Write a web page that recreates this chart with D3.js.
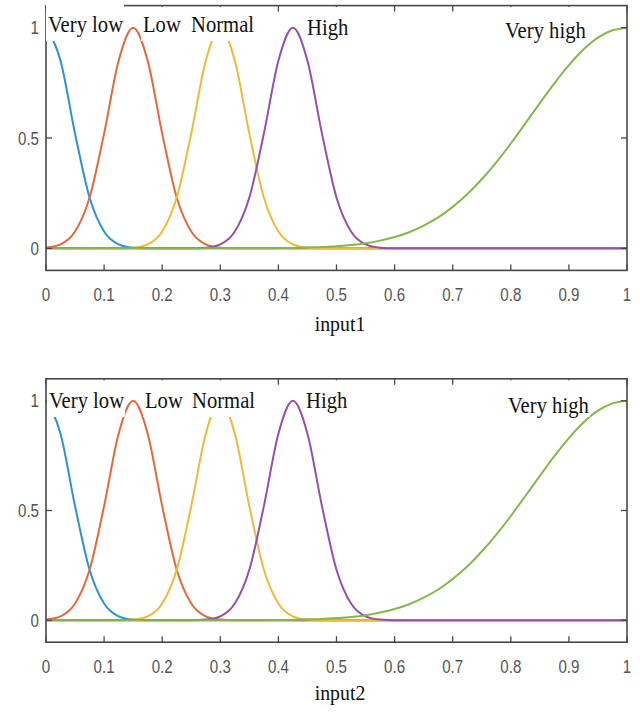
<!DOCTYPE html>
<html><head><meta charset="utf-8">
<script src="https://cdn.jsdelivr.net/npm/d3@7"></script>
<style>body{margin:0;background:#fff}svg{display:block}</style>
</head><body><svg id="c" width="640" height="719"></svg>
<script>
// ---------- data ----------
const xValues = [0,0.025,0.05,0.075,0.1,0.125,0.15,0.175,0.2,0.225,0.25,0.275,0.3,0.325,0.35,0.375,0.4,0.425,0.45,0.475,0.5,0.525,0.55,0.575,0.6,0.625,0.65,0.675,0.7,0.725,0.75,0.775,0.8,0.825,0.85,0.875,0.9,0.925,0.95,0.975,1];
const categories = ["Very low","Low","Normal","High","Very high"];
const veryLow  = [1,0.85,0.52,0.23,0.076,0.018,0.003,0,0,0,0,0,0,0,0,0,0,0,0,0,0,0,0,0,0,0,0,0,0,0,0,0,0,0,0,0,0,0,0,0,0];
const low      = [0.003,0.018,0.076,0.23,0.52,0.85,1,0.85,0.52,0.23,0.076,0.018,0.003,0,0,0,0,0,0,0,0,0,0,0,0,0,0,0,0,0,0,0,0,0,0,0,0,0,0,0,0];
const normal   = [0,0,0,0,0,0,0.003,0.018,0.076,0.23,0.52,0.85,1,0.85,0.52,0.23,0.076,0.018,0.003,0,0,0,0,0,0,0,0,0,0,0,0,0,0,0,0,0,0,0,0,0,0];
const high     = [0,0,0,0,0,0,0,0,0,0,0,0.003,0.018,0.076,0.23,0.52,0.85,1,0.85,0.52,0.23,0.076,0.018,0.003,0,0,0,0,0,0,0,0,0,0,0,0,0,0,0,0,0];
const veryHigh = [0,0,0,0,0,0,0,0,0,0,0,0,0,0,0,0,0.001,0.002,0.004,0.006,0.01,0.015,0.023,0.035,0.051,0.073,0.103,0.14,0.188,0.245,0.313,0.39,0.475,0.566,0.658,0.748,0.83,0.901,0.955,0.988,1];
const seriesValues = [veryLow, low, normal, high, veryHigh];
const xTicks = [0,0.1,0.2,0.3,0.4,0.5,0.6,0.7,0.8,0.9,1];
const xTickLabels = ["0","0.1","0.2","0.3","0.4","0.5","0.6","0.7","0.8","0.9","1"];
const yTicks = [0,0.5,1];
const yTickLabels = ["0","0.5","1"];
const axisTitles = ["input1","input2"];

// ---------- layout / style ----------
const colors = ["#2f90d4","#e2693f","#f0ba38","#9650a8","#84b84a"];
const X0 = 46, X1 = 627;
const panels = [
  {top:5.6, bottom:270.4, tickY:301, titleY:331,
   labels:[{x:48,y:32,boxTop:0,pb:9},{x:143,y:32,pb:9},{x:191,y:32,pb:9},{x:307,y:35,pb:8},{x:505,y:38,pb:4}]},
  {top:378.8, bottom:642.2, tickY:672.5, titleY:700,
   labels:[{x:49,y:408,pb:9},{x:145,y:408,pb:9},{x:192,y:408,pb:9},{x:306,y:408,pb:9},{x:508,y:413,pb:4}]}
];

const svg = d3.select("#c");
const x = d3.scaleLinear().domain([0,1]).range([X0,X1]);

panels.forEach((p,pi)=>{
  const y = d3.scaleLinear().domain([-0.1,1.1]).range([p.bottom,p.top]);
  const g = svg.append("g");

  // curves
  const line = d3.line().x((d,i)=>x(xValues[i])).y(d=>y(d)).curve(d3.curveMonotoneX);
  seriesValues.forEach((vals,si)=>{
    g.append("path").attr("d",line(vals)).attr("fill","none")
      .attr("stroke",colors[si]).attr("stroke-width",2).attr("stroke-linejoin","round");
  });

  // frame
  g.append("rect").attr("x",X0).attr("y",p.top).attr("width",X1-X0).attr("height",p.bottom-p.top)
    .attr("fill","none").attr("stroke","#484848").attr("stroke-width",1.6);
  const tl = 6;
  xTicks.forEach(t=>{
    g.append("line").attr("x1",x(t)).attr("x2",x(t)).attr("y1",p.bottom).attr("y2",p.bottom-tl).attr("stroke","#484848").attr("stroke-width",1.3);
    g.append("line").attr("x1",x(t)).attr("x2",x(t)).attr("y1",p.top).attr("y2",p.top+tl).attr("stroke","#484848").attr("stroke-width",1.3);
  });
  yTicks.forEach(t=>{
    g.append("line").attr("x1",X0).attr("x2",X0+tl).attr("y1",y(t)).attr("y2",y(t)).attr("stroke","#484848").attr("stroke-width",1.3);
    g.append("line").attr("x1",X1).attr("x2",X1-tl).attr("y1",y(t)).attr("y2",y(t)).attr("stroke","#484848").attr("stroke-width",1.3);
  });

  // tick labels
  xTicks.forEach((t,i)=>{
    g.append("g").attr("transform",`translate(${x(t)},${p.tickY}) scale(0.84,1)`)
      .append("text").attr("text-anchor","middle").attr("font-family","Liberation Sans, Arial, sans-serif")
      .attr("font-size",18).attr("fill","#555").text(xTickLabels[i]);
  });
  yTicks.forEach((t,i)=>{
    g.append("g").attr("transform",`translate(39,${y(t)+6.5}) scale(0.84,1)`)
      .append("text").attr("text-anchor","end").attr("font-family","Liberation Sans, Arial, sans-serif")
      .attr("font-size",18).attr("fill","#555").text(yTickLabels[i]);
  });

  // axis title
  g.append("g").attr("transform",`translate(340,${p.titleY}) scale(0.9,1)`)
    .append("text").attr("text-anchor","middle").attr("font-family","Liberation Serif, Times New Roman, serif")
    .attr("font-size",22).attr("fill","#111").text(axisTitles[pi]);

  // membership labels with white boxes
  categories.forEach((c,ci)=>{
    const L = p.labels[ci];
    const lg = g.append("g");
    const rect = lg.append("rect").attr("fill","#fff");
    const tg = lg.append("g").attr("transform",`translate(${L.x},${L.y}) scale(0.86,1)`);
    const txt = tg.append("text").attr("font-family","Liberation Serif, Times New Roman, serif")
      .attr("font-size",24).attr("fill","#111").text(c);
    const w = txt.node().getComputedTextLength()*0.86;
    const bt = (L.boxTop!==undefined) ? L.boxTop : p.top+1.5;
    rect.attr("x",L.x-2).attr("y",bt).attr("width",w+3).attr("height",L.y+L.pb-bt);
  });
});
</script></body></html>
